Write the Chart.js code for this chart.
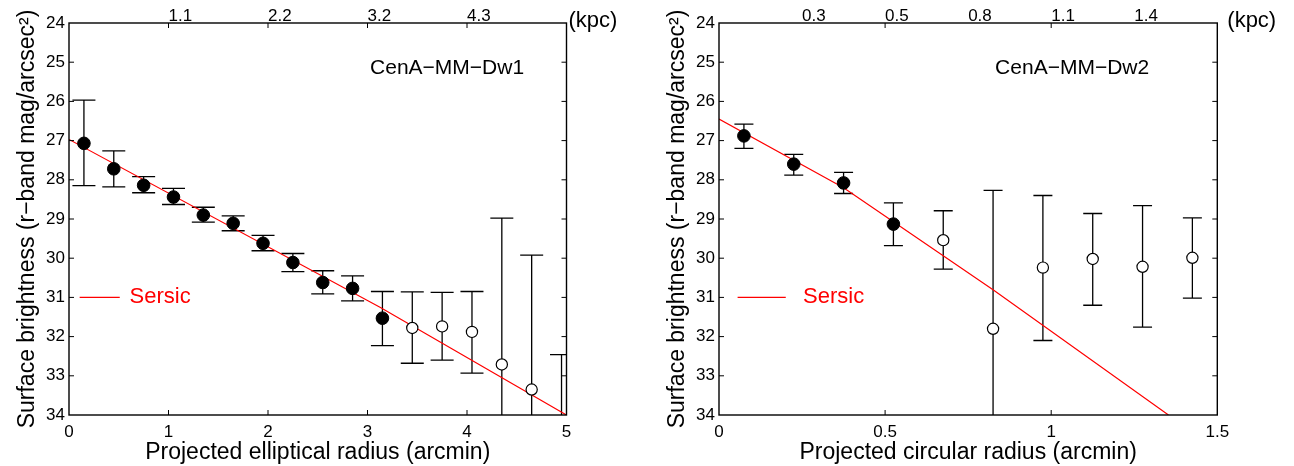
<!DOCTYPE html>
<html lang="en">
<head>
  <meta charset="UTF-8">
  <title>CenA-MM-Dw1 / Dw2 surface brightness profiles</title>
  <script src="https://cdn.jsdelivr.net/npm/chart.js"></script>
  <style>
    body {
      margin: 0;
      background: #fff;
    }
    .wrap {
      position: relative;
      width: 1294px;
      height: 466px;
    }
    .panel {
      position: absolute;
      top: 0;
      height: 466px;
    }
    #p1 { left: 0; width: 650px; }
    #p2 { left: 650px; width: 644px; }
  </style>
</head>
<body>
  <div class="wrap">
    <div class="panel" id="p1"><canvas id="chart1"></canvas></div>
    <div class="panel" id="p2"><canvas id="chart2"></canvas></div>
  </div>
  <script>
    // CenA-MM-Dw1 (elliptical radius, arcmin) - first 11 points are filled
    const dw1Radius = [0.15, 0.45, 0.75, 1.05, 1.35, 1.65, 1.95, 2.25, 2.55, 2.85, 3.15, 3.45, 3.75, 4.05, 4.35, 4.65, 4.95];
    const dw1Mu     = [27.07, 27.72, 28.14, 28.44, 28.90, 29.11, 29.62, 30.11, 30.62, 30.77, 31.53, 31.78, 31.74, 31.88, 32.71, 33.35, 34.6];
    const dw1ErrTop = [25.97, 27.26, 27.92, 28.22, 28.70, 28.92, 29.42, 29.88, 30.32, 30.45, 30.85, 30.86, 30.87, 30.85, 28.98, 29.92, 32.46];
    const dw1ErrBot = [28.15, 28.18, 28.33, 28.63, 29.08, 29.30, 29.81, 30.34, 30.91, 31.09, 32.23, 32.68, 32.60, 32.93, 34.5, 34.5, 34.9];
    const dw1Filled = 11;
    const dw1SersicR  = [0, 3.13, 5];
    const dw1SersicMu = [26.97, 31.26, 34.0];
    const dw1KpcPos    = [1, 2, 3, 4];
    const dw1KpcLabels = ['1.1', '2.2', '3.2', '4.3'];

    // CenA-MM-Dw2 (circular radius, arcmin) - first 4 points are filled
    const dw2Radius = [0.075, 0.225, 0.375, 0.525, 0.675, 0.825, 0.975, 1.125, 1.275, 1.425];
    const dw2Mu     = [26.88, 27.60, 28.08, 29.13, 29.54, 31.80, 30.24, 30.02, 30.22, 29.99];
    const dw2ErrTop = [26.58, 27.35, 27.81, 28.59, 28.79, 28.27, 28.40, 28.86, 28.66, 28.97];
    const dw2ErrBot = [27.20, 27.88, 28.35, 29.68, 30.28, 34.5, 32.10, 31.20, 31.76, 31.02];
    const dw2Filled = 4;
    const dw2SersicR  = [0, 0.375, 0.826, 1.353];
    const dw2SersicMu = [26.45, 28.20, 30.81, 34.0];
    const dw2KpcPos    = [0.25, 0.5, 0.75, 1.0, 1.25];
    const dw2KpcLabels = ['0.3', '0.5', '0.8', '1.1', '1.4'];

    const FONT = '"Liberation Sans", Arial, Helvetica, sans-serif';
    Chart.defaults.font.family = FONT;
    Chart.defaults.color = '#000';

    // error bars, box with inward ticks, panel label, legend, (kpc)
    const profileDecor = {
      id: 'profileDecor',
      beforeDatasetsDraw(chart, args, o) {
        const { ctx, chartArea: a, scales: { x, y } } = chart;
        ctx.save();
        ctx.beginPath();
        ctx.rect(a.left, a.top, a.right - a.left, a.bottom - a.top);
        ctx.clip();
        ctx.strokeStyle = '#000';
        ctx.lineWidth = 1.3;
        const hw = o.capWidth / 2;
        chart.data.datasets.forEach(ds => {
          if (!ds.errTop) return;
          ds.data.forEach((p, i) => {
            const px = x.getPixelForValue(p.x);
            const y1 = y.getPixelForValue(ds.errTop[i]);
            const y2 = y.getPixelForValue(ds.errBot[i]);
            ctx.beginPath();
            ctx.moveTo(px, y1); ctx.lineTo(px, y2);
            ctx.moveTo(px - hw, y1); ctx.lineTo(px + hw, y1);
            ctx.moveTo(px - hw, y2); ctx.lineTo(px + hw, y2);
            ctx.stroke();
          });
        });
        ctx.restore();
      },
      afterDraw(chart, args, o) {
        const { ctx, chartArea: a, scales: { x, y } } = chart;
        ctx.save();
        ctx.strokeStyle = '#000';
        ctx.lineWidth = 1.4;
        ctx.strokeRect(a.left, a.top, a.right - a.left, a.bottom - a.top);

        ctx.lineWidth = 1;
        ctx.beginPath();
        x.ticks.forEach(t => {
          const px = x.getPixelForValue(t.value);
          if (px <= a.left + 1 || px >= a.right - 1) return;
          ctx.moveTo(px, a.bottom); ctx.lineTo(px, a.bottom - 5);
          ctx.moveTo(px, a.top); ctx.lineTo(px, a.top + 5);
        });
        y.ticks.forEach(t => {
          const py = y.getPixelForValue(t.value);
          if (py <= a.top + 1 || py >= a.bottom - 1) return;
          ctx.moveTo(a.left, py); ctx.lineTo(a.left + 5, py);
          ctx.moveTo(a.right, py); ctx.lineTo(a.right - 5, py);
        });
        ctx.stroke();

        ctx.fillStyle = '#000';
        ctx.textBaseline = 'middle';
        ctx.textAlign = 'center';
        ctx.font = '21px ' + FONT;
        ctx.fillText(o.label, x.getPixelForValue(o.labelX), y.getPixelForValue(o.labelY));

        const ly = y.getPixelForValue(o.legendY);
        ctx.strokeStyle = '#ff0000';
        ctx.lineWidth = 1.2;
        ctx.beginPath();
        ctx.moveTo(x.getPixelForValue(o.legendLine[0]), ly);
        ctx.lineTo(x.getPixelForValue(o.legendLine[1]), ly);
        ctx.stroke();
        ctx.fillStyle = '#ff0000';
        ctx.textAlign = 'left';
        ctx.font = '22px ' + FONT;
        ctx.fillText('Sersic', x.getPixelForValue(o.legendTextX), ly);

        ctx.fillStyle = '#000';
        ctx.font = '22px ' + FONT;
        ctx.fillText('(kpc)', a.right + o.kpcGap, a.top - 2);
        ctx.restore();
      }
    };

    function buildPanel(canvasId, p) {
      const n = p.radius.length;
      const pts = (i0, i1) => p.radius.slice(i0, i1).map((r, k) => ({ x: r, y: p.mu[i0 + k] }));
      return new Chart(document.getElementById(canvasId), {
        type: 'scatter',
        data: {
          datasets: [
            {
              label: 'Sersic',
              data: p.sersicR.map((r, i) => ({ x: r, y: p.sersicMu[i] })),
              showLine: true,
              borderColor: '#ff0000',
              borderWidth: 1.2,
              pointRadius: 0,
              order: 2
            },
            {
              label: 'filled',
              data: pts(0, p.filled),
              errTop: p.errTop.slice(0, p.filled),
              errBot: p.errBot.slice(0, p.filled),
              pointRadius: 6.3,
              backgroundColor: '#000',
              borderColor: '#000',
              order: 1
            },
            {
              label: 'open',
              data: pts(p.filled, n),
              errTop: p.errTop.slice(p.filled),
              errBot: p.errBot.slice(p.filled),
              pointRadius: 5.6,
              backgroundColor: '#fff',
              borderColor: '#000',
              borderWidth: 1.2,
              order: 1
            }
          ]
        },
        options: {
          responsive: true,
          maintainAspectRatio: false,
          animation: false,
          layout: { padding: { left: 0, right: p.padRight, top: 0, bottom: 0 } },
          plugins: {
            legend: { display: false },
            tooltip: { enabled: false },
            profileDecor: p.decor
          },
          scales: {
            x: {
              type: 'linear', position: 'bottom', min: 0, max: p.xMax,
              grid: { display: false }, border: { display: false },
              ticks: { stepSize: p.xStep, font: { size: 17 }, padding: -1, maxRotation: 0, autoSkip: false,
                       callback: v => String(v) },
              title: { display: true, text: p.xTitle, font: { size: 23 }, padding: 0 },
              afterFit: s => { s.height = 51; }
            },
            xTop: {
              type: 'linear', position: 'top', min: 0, max: p.xMax,
              grid: { display: false }, border: { display: false },
              afterBuildTicks: s => { s.ticks = p.kpcPos.map(v => ({ value: v })); },
              ticks: { align: 'start', font: { size: 17 }, padding: -12, maxRotation: 0, autoSkip: false,
                       callback: (v, i) => p.kpcLabels[i] },
              afterFit: s => { s.height = 23; }
            },
            y: {
              type: 'linear', reverse: true, min: 24, max: 34,
              grid: { display: false }, border: { display: false },
              ticks: { stepSize: 1, font: { size: 17 }, padding: -4, autoSkip: false },
              title: { display: true, text: 'Surface brightness (r\u2212band mag/arcsec\u00b2)',
                       font: { size: 23 }, padding: { top: 14, bottom: 0 } },
              afterFit: s => { s.width = 69; }
            }
          }
        },
        plugins: [profileDecor]
      });
    }

    buildPanel('chart1', {
      radius: dw1Radius, mu: dw1Mu, errTop: dw1ErrTop, errBot: dw1ErrBot, filled: dw1Filled,
      sersicR: dw1SersicR, sersicMu: dw1SersicMu, kpcPos: dw1KpcPos, kpcLabels: dw1KpcLabels,
      xMax: 5, xStep: 1, padRight: 83.5,
      xTitle: 'Projected elliptical radius (arcmin)',
      decor: { label: 'CenA\u2212MM\u2212Dw1', labelX: 3.80, labelY: 25.15, capWidth: 23,
               legendLine: [0.107, 0.51], legendTextX: 0.609, legendY: 31.0, kpcGap: 2 }
    });

    buildPanel('chart2', {
      radius: dw2Radius, mu: dw2Mu, errTop: dw2ErrTop, errBot: dw2ErrBot, filled: dw2Filled,
      sersicR: dw2SersicR, sersicMu: dw2SersicMu, kpcPos: dw2KpcPos, kpcLabels: dw2KpcLabels,
      xMax: 1.5, xStep: 0.5, padRight: 76.7,
      xTitle: 'Projected circular radius (arcmin)',
      decor: { label: 'CenA\u2212MM\u2212Dw2', labelX: 1.063, labelY: 25.15, capWidth: 19,
               legendLine: [0.056, 0.201], legendTextX: 0.253, legendY: 31.0, kpcGap: 10 }
    });
  </script>
</body>
</html>
